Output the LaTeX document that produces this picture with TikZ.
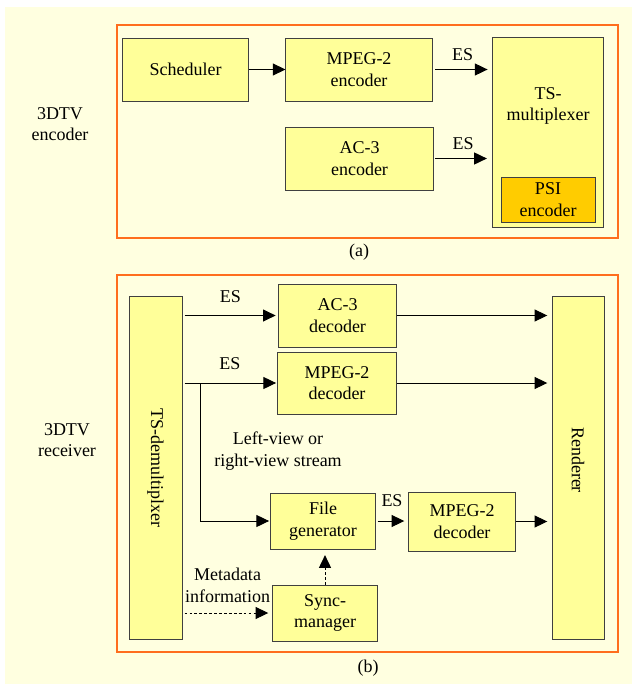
\documentclass[tikz,border=0pt]{standalone}
\usepackage{fontspec}
\setmainfont{Liberation Serif}
\usetikzlibrary{%
  arrows.meta,%
  positioning,%
  calc%
}
\definecolor{bgyel}{RGB}{255,255,224}
\definecolor{boxyel}{RGB}{255,255,153}
\definecolor{psiorange}{RGB}{255,204,0}
\definecolor{frameor}{RGB}{255,110,30}

\begin{document}
\begin{tikzpicture}
  [
  x=0.025cm, y=-0.025cm,
  font={\fontsize{12.8pt}{15.4pt}\selectfont}, line width=0.7pt,
  blk/.style 2 args={rectangle, draw=black!75, fill=boxyel, align=center, inner sep=0pt, minimum width=#1, minimum height=#2},
  lbl/.style={align=center, inner sep=0pt},
  frame/.style={draw=frameor, line width=1.3pt},
  arr/.style={-{Triangle[length=9pt,width=8.5pt]}},
  dasharr/.style={arr, dash pattern=on 2pt off 1.5pt}
  ]

\useasboundingbox (0,0) rectangle (632,684);
\fill[bgyel] (5,7) rectangle (632,684);

% (a) encoder
\draw[frame] (117,25) rectangle (618,238);
\node[blk={3.125cm}{1.575cm}] (sched) at (185.5,69.5) {Scheduler};
\node[blk={3.65cm}{1.575cm}] (menc) at (359,69.5) {MPEG-2\\encoder};
\node[blk={3.675cm}{1.575cm}] (aenc) at (359.5,158.5) {AC-3\\encoder};
\node[blk={2.75cm}{4.725cm}] (tsmux) at (548,132.5) {};
\node[lbl] (tsmuxtxt) at (548,106) {TS-\\multiplexer};
\node[blk={2.35cm}{1.125cm}, fill=psiorange] (psi) at (548,199.5) {PSI\\encoder};
\node[lbl] (enc) at (60,124) {3DTV\\encoder};
\node[lbl] (capa) at (359,252) {(a)};

\draw[arr] (sched) -- (menc);
\draw[arr, shorten <=2pt, shorten >=3.5pt] (menc.east) -- node[lbl, above=6pt] {ES} (tsmux.west |- menc.east);
\draw[arr, shorten <=1pt, shorten >=4pt] (aenc.east) -- node[lbl, above=6pt] {ES} (tsmux.west |- aenc.east);

% (b) receiver
\draw[frame] (117,275) rectangle (618,652);
\node[blk={1.325cm}{8.55cm}] (demux) at (155.5,468) {};
\node[lbl, rotate=-90] (demuxtxt) at (demux) {TS-demultiplxer};
\node[blk={1.3cm}{8.55cm}] (rend) at (578,468) {};
\node[lbl, rotate=-90] (rendtxt) at (578,460) {Renderer};
\node[blk={2.925cm}{1.575cm}] (adec) at (337.5,315.5) {AC-3\\decoder};
\node[blk={2.95cm}{1.55cm}] (mdec) at (337,383) {MPEG-2\\decoder};
\node[blk={2.6cm}{1.4cm}] (fgen) at (323,521) {File\\generator};
\node[blk={2.65cm}{1.475cm}] (mdec2) at (462,521.5) {MPEG-2\\decoder};
\node[blk={2.6cm}{1.4cm}] (sync) at (325,613) {Sync-\\manager};
\node[lbl] (rec) at (67,440) {3DTV\\receiver};
\node[lbl] (capb) at (368,668) {(b)};
\node[lbl] (lvtxt) at (278,451) {Left-view or\\right-view stream};

\coordinate (split) at (200,383);

\draw[arr, shorten <=1.5pt, shorten >=2pt] (demux.east |- adec) -- node[lbl, above=9pt] {ES} (adec);
\draw[arr, shorten >=3pt] (adec) -- (rend.west |- adec);
\draw[arr, shorten <=1.5pt, shorten >=1pt] (demux.east |- mdec) -- node[lbl, above=9pt] {ES} (mdec);
\draw[arr, shorten >=3pt] (mdec) -- (rend.west |- mdec);
\draw[arr, shorten >=1pt] (split) |- (fgen);
\draw[arr, shorten <=1.5pt, shorten >=3pt] (fgen.east) -- node[lbl, above=10pt] {ES} (mdec2.west |- fgen.east);
\draw[arr, shorten >=3pt] (mdec2) -- (rend.west |- mdec2);
\draw[dasharr, shorten >=4pt] (sync.north) -- (sync.north |- fgen.south);
\draw[dasharr, shorten <=1.5pt, shorten >=3pt] (demux.east |- sync) -- node[lbl, above=7pt] {Metadata\\information} (sync);
\end{tikzpicture}
\end{document}
